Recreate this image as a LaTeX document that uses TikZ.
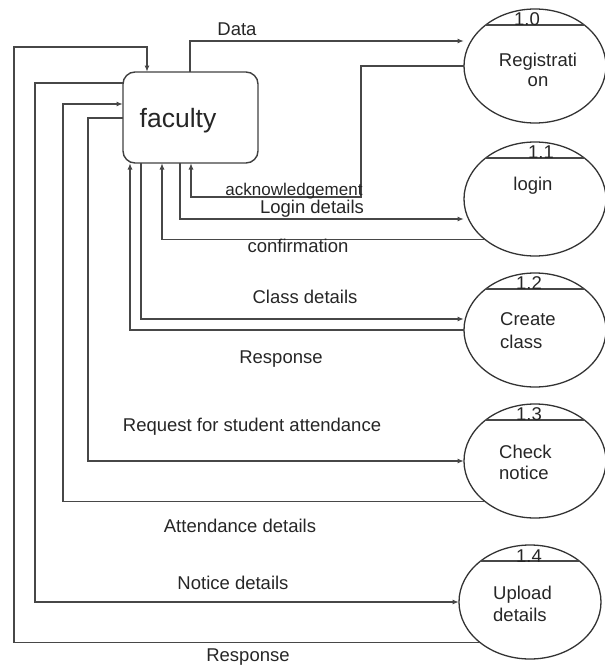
\documentclass[tikz,border=0pt]{standalone}
\usepackage{fontspec}
\setmainfont{Liberation Sans}
\usetikzlibrary{arrows.meta,calc,shapes.geometric}
\begin{document}
\begin{tikzpicture}[x=1pt,y=-1pt,
  line/.style={draw=black!72, line width=1.4pt},
  flow/.style={line, -{Latex[length=6.5pt,width=5pt]}},
  proc/.style={ellipse, draw=black!80, line width=1.3pt, minimum width=142pt, minimum height=114pt, inner sep=0pt, outer sep=0pt},
  ent/.style={draw=black!75, line width=1.4pt, rounded corners=12pt, minimum width=135pt, minimum height=91pt, inner sep=0pt, outer sep=0pt},
  lab/.style={anchor=base, font=\fontsize{18.5}{20}\selectfont, text=black!85, inner sep=0pt},
  labl/.style={lab, anchor=base west},
  chord/.style={line}
]
\useasboundingbox (0,0) rectangle (605,667);

% faculty entity
\node[ent] (fac) at (190.5,117.5) {};
\node[lab, font=\fontsize{26.5}{28}\selectfont] (factxt) at (178,127) {faculty};

% processes
\node[proc] (reg) at (535,66) {};
\node[proc] (login) at (535,199) {};
\node[proc] (create) at (535,330) {};
\node[proc] (check) at (535,461) {};
\node[proc] (upload) at (530,602) {};

\foreach \e in {reg,login,create,check,upload}{
  \begin{scope}
    \clip (\e.center) ellipse [x radius=71pt, y radius=57pt];
    \draw[chord] ([yshift=41pt]\e.west) -- ([yshift=41pt]\e.east);
  \end{scope}
}

% process numbers and names
\node[lab] (n0) at (527,25) {1.0};
\node[lab] (n1) at (541,158) {1.1};
\node[lab] (n2) at (529,289) {1.2};
\node[lab] (n3) at (529,420) {1.3};
\node[lab] (n4) at (529,562) {1.4};

\node[lab] (t0a) at (538,66.5) {Registrati};
\node[lab] (t0b) at (538,86.5) {on};
\node[lab] (t1) at (533,190) {login};
\node[labl] (t2a) at (500,325) {Create};
\node[labl] (t2b) at (500,348) {class};
\node[labl] (t3a) at (499,458) {Check};
\node[labl] (t3b) at (499,479) {notice};
\node[labl] (t4a) at (493,599) {Upload};
\node[labl] (t4b) at (493,621) {details};

% connectors
\draw[flow] ($(fac.north west)+(67,0)$) -- ++(0,-31) -- ($(reg.west)+(0,-25)$);
\draw[flow] (reg.west) -| ($(fac.south west)+(238,34)$) -| ($(fac.south west)+(68,0)$);
\draw[flow] ($(fac.south west)+(57,0)$) |- ([yshift=-20pt]login.west);
\draw[flow] (login.south west) -| ($(fac.south west)+(39,0)$);
\draw[flow] ($(fac.south west)+(18,0)$) |- ([yshift=11pt]create.west);
\draw[flow] (create.west) -| ($(fac.south west)+(7,0)$);
\draw[flow] ($(fac.north west)+(0,46)$) -- ++(-35,0) |- (check.west);
\draw[flow] (check.south west) -| ($(fac.north west)+(-60,32)$) -- ($(fac.north west)+(0,32)$);
\draw[flow] ($(fac.north west)+(0,11)$) -- ++(-88,0) |- (upload.west);
\draw[flow] (upload.south west) -| ($(fac.north west)+(-109,-25)$) -| ($(fac.north west)+(24,0)$);

% flow labels
\node[lab] (l1) at (237,35) {Data};
\node[lab, font=\fontsize{17}{18}\selectfont] (l2) at (294,195) {acknowledgement};
\node[lab] (l3) at (312,213) {Login details};
\node[lab] (l4) at (298,252) {confirmation};
\node[lab] (l5) at (305,303) {Class details};
\node[lab] (l6) at (281,363) {Response};
\node[lab] (l7) at (252,431) {Request for student attendance};
\node[lab] (l8) at (240,532) {Attendance details};
\node[lab] (l9) at (233,589) {Notice details};
\node[lab] (l10) at (248,661) {Response};
\end{tikzpicture}
\end{document}
